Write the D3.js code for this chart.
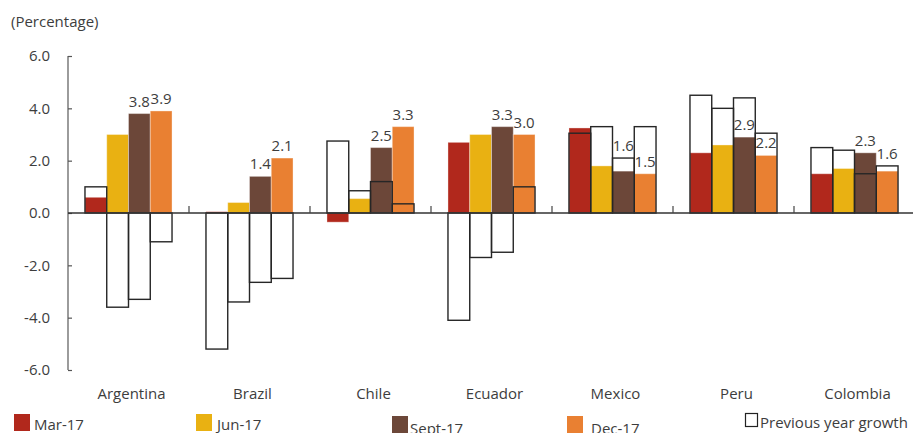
<!DOCTYPE html>
<html><head><meta charset="utf-8">
<script src="https://cdn.jsdelivr.net/npm/d3@7"></script>
<style>
html,body{margin:0;padding:0;background:#fff;}
svg{display:block;font-family:"Open Sans",sans-serif;}
</style></head>
<body><svg id="c" width="913" height="433"></svg>
<script>
const countries = ["Argentina","Brazil","Chile","Ecuador","Mexico","Peru","Colombia"];
const periods = ["Mar-17","Jun-17","Sept-17","Dec-17"];
const mar17  = [0.6, 0.05, -0.35, 2.7, 3.25, 2.3, 1.5];
const jun17  = [3.0, 0.4, 0.55, 3.0, 1.8, 2.6, 1.7];
const sept17 = [3.8, 1.4, 2.5, 3.3, 1.6, 2.9, 2.3];
const dec17  = [3.9, 2.1, 3.3, 3.0, 1.5, 2.2, 1.6];
const prevMar  = [1.0, -5.2, 2.75, -4.1, 3.05, 4.5, 2.5];
const prevJun  = [-3.6, -3.4, 0.85, -1.7, 3.3, 4.0, 2.4];
const prevSept = [-3.3, -2.65, 1.2, -1.5, 2.1, 4.4, 1.5];
const prevDec  = [-1.1, -2.5, 0.35, 1.0, 3.3, 3.05, 1.8];
const labelledPeriods = ["Sept-17","Dec-17"];
const yTicks = [-6, -4, -2, 0, 2, 4, 6];
const yTitle = "(Percentage)";
const prevLabel = "Previous year growth";

const colors = {"Mar-17":"#b1281c","Jun-17":"#e9b112","Sept-17":"#6c4739","Dec-17":"#e98032"};
const current = {"Mar-17":mar17,"Jun-17":jun17,"Sept-17":sept17,"Dec-17":dec17};
const previous = {"Mar-17":prevMar,"Jun-17":prevJun,"Sept-17":prevSept,"Dec-17":prevDec};

const svg = d3.select("#c");
const textCol = "#3d3d3d";
const x0 = d3.scaleBand().domain(countries).range([68, 915]).paddingInner(0).paddingOuter(0);
const x1 = d3.scaleBand().domain(periods).range([0, x0.bandwidth()]).paddingInner(0).paddingOuter(0.78);
const y = d3.scaleLinear().domain([-6, 6]).range([370, 56]);

// title
svg.append("text").attr("x", 11).attr("y", 27).attr("fill", textCol)
  .attr("font-size", 15).text(yTitle);

// y axis
const yAxis = d3.axisRight(y).tickValues(yTicks).tickSize(4).tickFormat(d3.format(".1f"));
const ga = svg.append("g").attr("transform", "translate(68,0)").call(yAxis);
ga.select(".domain").attr("stroke", "#666").attr("stroke-width", 1.3).attr("d", "M0," + y(6) + "V" + y(-6));
ga.selectAll(".tick line").attr("stroke", "#555").attr("stroke-width", 1.2);
ga.selectAll(".tick text").attr("x", -18).attr("text-anchor", "end").attr("fill", textCol)
  .attr("font-size", 15).attr("font-family", "Open Sans, sans-serif")
  .text(d => d.toFixed(1));

const rows = [];
countries.forEach((c, i) => periods.forEach(p => rows.push({c, p, v: current[p][i], pv: previous[p][i]})));

const g = svg.append("g");
// bars
g.selectAll("rect.bar").data(rows).join("rect").attr("class", "bar")
  .attr("x", d => x0(d.c) + x1(d.p)).attr("width", x1.bandwidth())
  .attr("y", d => y(Math.max(0, d.v))).attr("height", d => Math.abs(y(d.v) - y(0)))
  .attr("fill", d => colors[d.p]).attr("stroke", "#fff").attr("stroke-opacity", 0.35).attr("stroke-width", 1);

// previous year outlines
g.selectAll("rect.prev").data(rows).join("rect").attr("class", "prev")
  .attr("x", d => x0(d.c) + x1(d.p)).attr("width", x1.bandwidth())
  .attr("y", d => y(Math.max(0, d.pv))).attr("height", d => Math.abs(y(d.pv) - y(0)))
  .attr("fill", "none").attr("stroke", "#262626").attr("stroke-width", 1.4);

// zero line and separators
svg.append("line").attr("x1", 68).attr("x2", 913).attr("y1", y(0)).attr("y2", y(0))
  .attr("stroke", "#333").attr("stroke-width", 1.3);
svg.selectAll("line.sep").data(countries.slice(1)).join("line").attr("class", "sep")
  .attr("x1", d => x0(d)).attr("x2", d => x0(d)).attr("y1", y(0)).attr("y2", y(0) - 7)
  .attr("stroke", "#444").attr("stroke-width", 1.2);

// value labels
const labRows = rows.filter(d => labelledPeriods.includes(d.p));
svg.selectAll("text.val").data(labRows).join("text").attr("class", "val")
  .attr("x", d => x0(d.c) + x1(d.p) + x1.bandwidth() / 2)
  .attr("y", d => {
    let top = y(d.v);
    const pt = y(d.pv);
    if (d.pv > d.v && top - pt < 16) top = pt;
    return top - 7;
  })
  .attr("text-anchor", "middle").attr("fill", textCol).attr("font-size", 15)
  .text(d => d.v.toFixed(1));

// category labels
svg.selectAll("text.cat").data(countries).join("text").attr("class", "cat")
  .attr("x", d => x0(d) + x0.bandwidth() / 2 + 3).attr("y", 399)
  .attr("text-anchor", "middle").attr("fill", textCol).attr("font-size", 15).text(d => d);

// legend
const leg = [
  {p: "Mar-17", rx: 14, ry: 414, tx: 34, ty: 430},
  {p: "Jun-17", rx: 196, ry: 414, tx: 217, ty: 430},
  {p: "Sept-17", rx: 392, ry: 416, tx: 410, ty: 434},
  {p: "Dec-17", rx: 567, ry: 416, tx: 591, ty: 434}
];
leg.forEach(l => {
  svg.append("rect").attr("x", l.rx).attr("y", l.ry).attr("width", 16).attr("height", 17).attr("fill", colors[l.p]);
  svg.append("text").attr("x", l.tx).attr("y", l.ty).attr("fill", textCol).attr("font-size", 15).text(l.p);
});
svg.append("rect").attr("x", 745.5).attr("y", 413.5).attr("width", 12).attr("height", 13)
  .attr("fill", "none").attr("stroke", "#222").attr("stroke-width", 1.2);
svg.append("text").attr("x", 760).attr("y", 428).attr("fill", textCol).attr("font-size", 15).text(prevLabel);
</script></body></html>
